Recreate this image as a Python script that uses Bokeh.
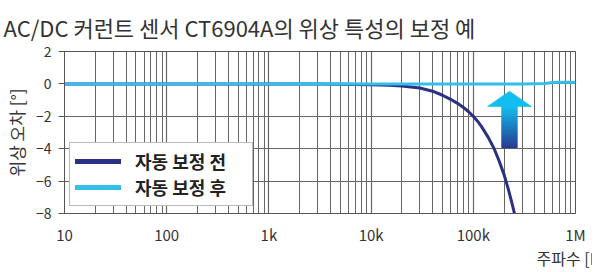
import numpy as np
from bokeh.plotting import figure
from bokeh.models import Range1d, FixedTicker, Legend, LegendItem, Title
from bokeh.embed import file_html
from bokeh.resources import INLINE

# ---------------- data ----------------
title_text = "AC/DC 커런트 센서 CT6904A의 위상 특성의 보정 예"
x_label = "주파수 [Hz]"
y_label = "위상 오차 [°]"
legend_before = "자동 보정 전"
legend_after = "자동 보정 후"

x_ticks = [10, 100, 1000, 10000, 100000, 1000000]
x_tick_labels = ["10", "100", "1k", "10k", "100k", "1M"]
y_ticks = [2, 0, -2, -4, -6, -8]

freq_before = [10, 100, 1000, 3000, 5000, 10000, 15000, 20000, 30000, 40000,
               50000, 60000, 70000, 80000, 90000, 100000, 110000, 120000,
               140000, 160000, 180000, 200000, 220000, 240000, 255000]
phase_before = [0, 0, 0, -0.01, -0.02, -0.05, -0.09, -0.13, -0.25, -0.45,
                -0.7, -0.95, -1.2, -1.45, -1.72, -2.0, -2.3, -2.62,
                -3.3, -4.0, -4.8, -5.6, -6.5, -7.4, -8.1]

freq_after = [10, 30, 100, 300, 1000, 3000, 10000, 30000, 100000, 300000,
              500000, 600000, 700000, 850000, 1000000]
phase_after = [0, 0, 0, 0.01, 0, 0.01, 0, 0, 0, 0, 0.02, 0.08, 0.1, 0.1, 0.08]

# arrow (decoration): centre frequency, vertical extent
arrow_f = 226000
arrow_bottom, arrow_neck, arrow_top = -3.95, -1.4, -0.45

FONT = "Noto Sans CJK KR"
NAVY = "#2a3182"
CYAN = "#33bfec"
GRID = "#666666"

p = figure(width=592, height=272, x_axis_type="log",
           x_range=Range1d(10, 1000000), y_range=Range1d(-8, 2),
           output_backend="svg", toolbar_location=None,
           min_border_left=64, min_border_right=17,
           min_border_top=50, min_border_bottom=50)
p.outline_line_color = "#555555"
p.outline_line_width = 1
p.background_fill_color = "white"
p.border_fill_color = "white"

p.title.text = title_text
p.title.align = "left"
p.title.text_font = FONT
p.title.text_font_size = "22px"
p.title.text_font_style = "normal"
p.title.text_color = "#333333"
p.title.offset = -61
p.title.standoff = 17

# axes
minor = []
for d in x_ticks[:-1]:
    minor += [d * k for k in range(2, 10)]
p.xaxis.ticker = FixedTicker(ticks=x_ticks, minor_ticks=minor)
p.xaxis.major_label_overrides = {t: l for t, l in zip(x_ticks, x_tick_labels)}
p.yaxis.ticker = FixedTicker(ticks=y_ticks)
for ax in (p.xaxis[0], p.yaxis[0]):
    ax.major_label_text_font = FONT
    ax.major_label_text_color = "#333333"
    ax.axis_line_color = "#555555"
    ax.major_tick_line_color = "#555555"
    ax.minor_tick_line_color = None
p.xaxis.major_label_text_font_size = "15px"
p.yaxis.major_label_text_font_size = "14px"
p.xaxis.major_tick_out = 0
p.xaxis.major_tick_in = 0
p.xaxis.major_label_standoff = 6
p.yaxis.major_tick_out = 6
p.yaxis.major_tick_in = 0
p.yaxis.major_label_standoff = 7
p.yaxis.axis_label = y_label
p.yaxis.axis_label_text_font = FONT
p.yaxis.axis_label_text_font_size = "17px"
p.yaxis.axis_label_text_font_style = "normal"
p.yaxis.axis_label_text_color = "#333333"
p.yaxis.axis_label_standoff = 4

# x-axis label, right-aligned under the axis
xax = p.xaxis[0]
placed = False
if "axis_label_align" in xax.properties():
    try:
        xax.axis_label_align = "end"
        xax.axis_label = x_label
        xax.axis_label_text_font = FONT
        xax.axis_label_text_font_size = "16px"
        xax.axis_label_text_font_style = "normal"
        xax.axis_label_text_color = "#333333"
        try:
            xax.axis_label_standoff = -2
        except Exception:
            xax.axis_label_standoff = 0
        placed = True
    except Exception:
        xax.axis_label = None
if not placed:
    xl = Title(text=x_label, align="right", text_font=FONT,
               text_font_size="15px", text_font_style="normal",
               text_color="#333333", standoff=0, offset=-12)
    p.add_layout(xl, "below")

p.xgrid.grid_line_color = GRID
p.xgrid.minor_grid_line_color = GRID
p.xgrid.grid_line_width = 1.2
p.ygrid.grid_line_color = GRID
p.ygrid.grid_line_width = 1.2

# lines (corrected line on top)
p.line(freq_before, phase_before, line_color=NAVY, line_width=3)
p.line(freq_after, phase_after, line_color=CYAN, line_width=3)

# gradient arrow
def mix(c1, c2, t):
    a = [int(c1[i:i + 2], 16) for i in (1, 3, 5)]
    b = [int(c2[i:i + 2], 16) for i in (1, 3, 5)]
    return "#%02x%02x%02x" % tuple(int(round(a[k] + (b[k] - a[k]) * t)) for k in range(3))

AR_TOP = "#12bdef"
AR_BOT = "#283a8e"
lc = np.log10(arrow_f)
shaft_hw = 0.075
head_hw = 0.215
n = 40
edges = np.linspace(arrow_bottom, arrow_neck, n + 1)
cols = []
for i in range(n):
    mid = 0.5 * (edges[i] + edges[i + 1])
    t = (arrow_neck - mid) / (arrow_neck - arrow_bottom)
    cols.append(mix(AR_TOP, AR_BOT, min(1, max(0, t))))
p.quad(left=[10 ** (lc - shaft_hw)] * n, right=[10 ** (lc + shaft_hw)] * n,
       bottom=list(edges[:-1]), top=list(edges[1:] + 0.03),
       fill_color=cols, line_color=cols, line_width=0.6)
p.patch([10 ** (lc - head_hw), 10 ** (lc + head_hw), 10 ** lc],
        [arrow_neck, arrow_neck, arrow_top], fill_color=AR_TOP, line_color=AR_TOP,
        line_width=0.6)

# legend with thick round lines (dummy renderers carry no visible data)
r1 = p.line([np.nan], [np.nan], line_color=NAVY, line_width=5, line_cap="round")
r2 = p.line([np.nan], [np.nan], line_color=CYAN, line_width=5, line_cap="round")
leg = Legend(items=[LegendItem(label=legend_before, renderers=[r1]),
                    LegendItem(label=legend_after, renderers=[r2])],
             location=(5, 7), margin=0, padding=5, spacing=0,
             glyph_width=46, glyph_height=22, label_height=22, label_width=112,
             label_standoff=14,
             label_text_font=FONT, label_text_font_size="18px",
             label_text_font_style="bold", label_text_color="#222222",
             border_line_color="#777777", border_line_width=1,
             background_fill_alpha=1)
p.add_layout(leg, "center")

open("out.html", "w").write(file_html(p, INLINE))
